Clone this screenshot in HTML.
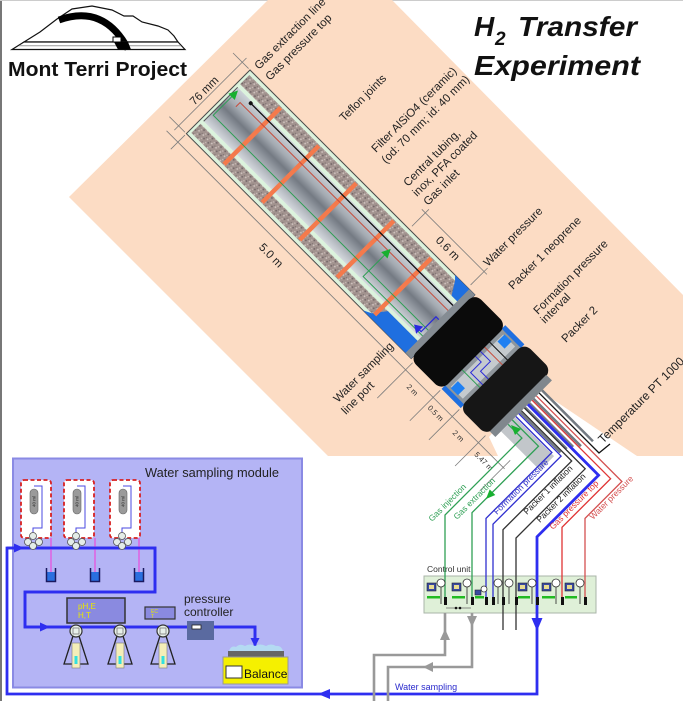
<!DOCTYPE html>
<html><head><meta charset="utf-8"><style>
html,body{margin:0;padding:0;background:#fff}
svg{display:block}
text{font-family:"Liberation Sans",Arial,sans-serif}
</style></head><body>
<svg width="683" height="701" viewBox="0 0 683 701" xmlns="http://www.w3.org/2000/svg">
<defs>
<pattern id="grav" width="6" height="6" patternUnits="userSpaceOnUse">
<rect width="6" height="6" fill="#a2938f"/>
<circle cx="1" cy="1" r="0.9" fill="#d2c6c2"/>
<circle cx="4" cy="3" r="0.9" fill="#6e6264"/>
<circle cx="2" cy="4.6" r="0.7" fill="#cabdb8"/>
<circle cx="5" cy="0.6" r="0.6" fill="#7c7070"/>
</pattern>
<linearGradient id="tube" x1="0" y1="0" x2="0" y2="1">
<stop offset="0" stop-color="#cdd2d8"/>
<stop offset="0.3" stop-color="#a5abb2"/>
<stop offset="0.5" stop-color="#747a83"/>
<stop offset="0.68" stop-color="#979da5"/>
<stop offset="1" stop-color="#d4d8dd"/>
</linearGradient>
</defs>

<rect width="683" height="701" fill="#fff"/>
<line x1="1" y1="0" x2="1" y2="701" stroke="#777" stroke-width="2"/>
<line x1="0" y1="0.5" x2="683" y2="0.5" stroke="#ccc" stroke-width="1"/>

<!-- beige band -->
<polygon points="69,197 268,0 392,0 683,295 683,456 328,456" fill="#fcdcc4"/>

<!-- white gallery after packer 2 -->
<polygon points="533,386 637,456 498,456 489,437" fill="#fff"/>

<!-- borehole -->
<g transform="translate(250,70) rotate(45)">
  <g stroke="#7d7d7d" stroke-width="0.8" fill="none">
    <line x1="-11" y1="-6" x2="-11" y2="96"/>
    <line x1="-2" y1="0" x2="-24" y2="0"/>
    <line x1="-2" y1="90" x2="-24" y2="90"/>
    <line x1="-16" y1="102" x2="462" y2="102"/>
    <line x1="0" y1="92" x2="0" y2="112"/>
    <line x1="322" y1="92" x2="322" y2="142"/>
    <line x1="361" y1="92" x2="361" y2="135"/>
    <line x1="388" y1="92" x2="388" y2="135"/>
    <line x1="425" y1="92" x2="425" y2="135"/>
    <line x1="460" y1="92" x2="460" y2="135"/>
    <line x1="225" y1="-4" x2="225" y2="-28"/>
    <line x1="308" y1="-4" x2="308" y2="-28"/>
    <line x1="220" y1="-23" x2="312" y2="-23"/>
  </g>
  <text transform="translate(-14,47) rotate(-90)" text-anchor="middle" font-size="11.5" fill="#222">76 mm</text>
  <text x="146" y="120" text-anchor="middle" font-size="11.5" fill="#222">5.0 m</text>
  <text x="266" y="-10" text-anchor="middle" font-size="11.5" fill="#222">0.6 m</text>
  <text x="341" y="114" text-anchor="middle" font-size="7.5" fill="#333">2 m</text>
  <text x="374" y="114" text-anchor="middle" font-size="7.5" fill="#333">0.5 m</text>
  <text x="406" y="114" text-anchor="middle" font-size="7.5" fill="#333">2 m</text>
  <text x="442" y="114" text-anchor="middle" font-size="7.5" fill="#333">5.47 m</text>

  <!-- filter section -->
  <rect x="0" y="0" width="318" height="90" fill="#dcf3dd" stroke="#4a4a4a" stroke-width="1"/>
  <rect x="3" y="4" width="315" height="13" fill="url(#grav)"/>
  <rect x="3" y="73" width="315" height="13" fill="url(#grav)"/>
  <rect x="3" y="21" width="315" height="48" fill="url(#tube)"/>
  <line x1="3.5" y1="21" x2="3.5" y2="69" stroke="#555" stroke-width="1"/>
  <polygon points="290,0 318,0 318,17 302,17 294,4" fill="#1f6fe0"/>
  <polygon points="250,90 318,90 318,73 268,73 258,86" fill="#1f6fe0"/>

  <g fill="#f47a4c">
    <rect x="46" y="5" width="4.5" height="80"/>
    <rect x="100" y="5" width="4.5" height="80"/>
    <rect x="153" y="5" width="4.5" height="80"/>
    <rect x="206" y="5" width="4.5" height="80"/>
    <rect x="259" y="5" width="4.5" height="80"/>
  </g>

  <g fill="none" stroke-width="1">
    <polyline points="6,30 6,58 318,58" stroke="#2f9e55"/>
    <polyline points="226,34 226,66 318,66" stroke="#2f9e55"/>
    <polyline points="16,36 16,30 318,30" stroke="#c84a3a"/>
    <line x1="24" y1="23" x2="318" y2="23" stroke="#111" stroke-width="1.3"/>
    <polyline points="300,64 306,64 306,43 318,43" stroke="#2a2ad8" stroke-width="1.2"/>
  </g>
  <circle cx="24" cy="23" r="2" fill="#111"/>
  <polygon points="6,23 1.5,32 10.5,32" fill="#18b030"/>
  <polygon points="226,27 221.5,36 230.5,36" fill="#18b030"/>
  <polygon points="296,64 304,59 304,69" fill="#2a2ae0"/>

  <!-- caps and packers -->
  <rect x="310" y="0" width="8" height="90" fill="#858c93"/>
  <rect x="361" y="0" width="27" height="90" fill="#8f969c"/>
  <rect x="366" y="8" width="17" height="74" fill="#c5cace"/>
  <rect x="361" y="0" width="27" height="5" fill="#1f6fe0"/>
  <rect x="361" y="85" width="27" height="5" fill="#1f6fe0"/>
  <rect x="367" y="7" width="10" height="10" fill="#1f80f2"/>
  <rect x="367" y="73" width="10" height="10" fill="#1f80f2"/>
  <g fill="none" stroke-width="1">
    <line x1="361" y1="23" x2="388" y2="23" stroke="#111"/>
    <line x1="361" y1="30" x2="388" y2="30" stroke="#c84a3a"/>
    <polyline points="361,36 376,36 376,50 388,50" stroke="#2a2ad8"/>
    <polyline points="361,43 370,43 370,58 388,58" stroke="#2a2ad8"/>
    <line x1="361" y1="62" x2="388" y2="62" stroke="#2f9e55"/>
  </g>
  <rect x="317" y="-1" width="45" height="92" rx="9" fill="#0b0b0b"/>
  <rect x="387" y="-1" width="39" height="92" rx="9" fill="#161616"/>
  <rect x="425" y="6" width="8" height="80" fill="#80878d"/>

  <!-- tube bundle -->
  <rect x="433" y="58" width="55" height="20" fill="#c2c6ca"/>
  <g stroke="#737a82" stroke-width="2.5">
    <line x1="433" y1="20" x2="505" y2="20"/>
    <line x1="433" y1="32" x2="500" y2="32"/>
    <line x1="433" y1="38" x2="495" y2="38"/>
    <line x1="433" y1="44" x2="492" y2="44"/>
    <line x1="433" y1="51" x2="490" y2="51"/>
  </g>
</g>

<!-- water sampling module box -->
<rect x="13" y="458.5" width="289" height="229" fill="#b4b4f5" stroke="#8a8ae4" stroke-width="2"/>
<text x="145" y="477" font-size="12.8" fill="#222">Water sampling module</text>

<!-- control unit box -->
<rect x="424" y="576" width="172" height="37" fill="#dff0d8" stroke="#aab5a8" stroke-width="1"/>
<text x="427" y="572" font-size="8.5" fill="#333">Control unit</text>

<!-- exit lines -->
<g fill="none" stroke-width="1.3">
  <polyline points="508.1,424.3 521.9,438.1 445,515 445,600" stroke="#2fa055"/>
  <polyline points="512.3,420 538.5,446.2 472,512.7 472,600" stroke="#2fa055"/>
  <polyline points="515.9,416.5 551.9,452.5 486,518.4 486,600" stroke="#3030d0"/>
  <polyline points="518.7,413.6 561.1,456.1 493,524.2 493,600" stroke="#3030d0"/>
  <polyline points="521.5,410.8 571.7,461 503,529.7 503,630" stroke="#333"/>
  <polyline points="524.4,408 585.2,468.8 516,538 516,630" stroke="#333"/>
  <polyline points="532.1,400.2 610.6,478.7 562,527.3 562,600" stroke="#e03434"/>
  <polyline points="536.4,395.9 621.9,481.5 585,518.4 585,600" stroke="#d45050"/>
  <polyline points="539.2,393.1 599,453 610,444" stroke="#111"/>
</g>
<polyline points="527.9,404.4 598.6,475.2 537,536.8 537,694 7,694 7,548 155,548 155,592 25,592 25,627 255,627 255,646" fill="none" stroke="#2e2ef0" stroke-width="2.8"/>
<polygon points="511,425 521,429 515,435" fill="#18b030"/>
<polygon points="486,499 495.3,495 489.7,489.4" fill="#18b030"/>

<!-- gray lines -->
<g fill="none" stroke="#999" stroke-width="2.6">
  <polyline points="445,613 445,655 374,655 374,701"/>
  <polyline points="472,613 472,667 388,667 388,701"/>
</g>
<polygon points="445,629 440,640 450,640" fill="#999"/>
<polygon points="472,627 467,616 477,616" fill="#999"/>
<polygon points="423,667 433,662 433,672" fill="#999"/>
<polygon points="537,631 531.5,618 542.5,618" fill="#2e2ef0"/>
<polygon points="318,694 330,689 330,699" fill="#2e2ef0"/>

<!-- control unit internals -->
<g fill="#22bb22">
  <rect x="427" y="596" width="13" height="2.5"/><rect x="452" y="596" width="13" height="2.5"/>
  <rect x="475" y="596" width="9" height="2.5"/><rect x="518" y="596" width="12" height="2.5"/>
  <rect x="542" y="596" width="13" height="2.5"/><rect x="565" y="596" width="12" height="2.5"/>
</g>
<g fill="#3a4aa0" stroke="#223" stroke-width="0.6">
  <rect x="427" y="583" width="9" height="8"/><rect x="452" y="583" width="9" height="8"/>
  <rect x="475" y="590" width="6" height="5"/><rect x="518" y="583" width="9" height="8"/>
  <rect x="542" y="583" width="9" height="8"/><rect x="565" y="583" width="9" height="8"/>
</g>
<g fill="#e8dc90">
  <rect x="429" y="585" width="5" height="4"/><rect x="454" y="585" width="5" height="4"/>
  <rect x="520" y="585" width="5" height="4"/><rect x="544" y="585" width="5" height="4"/>
  <rect x="567" y="585" width="5" height="4"/>
</g>
<g fill="#fff" stroke="#333" stroke-width="0.8">
  <circle cx="441" cy="583" r="4"/><circle cx="467" cy="583" r="4"/><circle cx="484" cy="589" r="3"/>
  <circle cx="498" cy="583" r="4"/><circle cx="509" cy="583" r="4"/><circle cx="532" cy="583" r="4"/>
  <circle cx="556" cy="583" r="4"/><circle cx="580" cy="583" r="4"/>
</g>
<g stroke="#222" stroke-width="0.8">
  <line x1="441" y1="587" x2="441" y2="604"/><line x1="467" y1="587" x2="467" y2="604"/>
  <line x1="498" y1="587" x2="498" y2="604"/><line x1="509" y1="587" x2="509" y2="604"/>
  <line x1="532" y1="587" x2="532" y2="604"/><line x1="556" y1="587" x2="556" y2="604"/>
  <line x1="580" y1="587" x2="580" y2="604"/>
  <line x1="446" y1="608" x2="471" y2="608" stroke="#666"/>
</g>
<g fill="#111">
  <rect x="444" y="597" width="3" height="8"/><rect x="471" y="597" width="3" height="8"/>
  <rect x="485" y="597" width="3" height="8"/><rect x="492" y="597" width="3" height="8"/>
  <rect x="502" y="597" width="3" height="8"/><rect x="515" y="597" width="3" height="8"/>
  <rect x="536" y="597" width="3" height="8"/><rect x="561" y="597" width="3" height="8"/>
  <rect x="584" y="597" width="3" height="8"/>
  <circle cx="456" cy="608" r="1.3"/><circle cx="460" cy="608" r="1.3"/>
</g>

<!-- exit line labels -->
<g font-size="8.5">
  <text transform="translate(432,522) rotate(-45)" fill="#2fa055">Gas injection</text>
  <text transform="translate(457,520) rotate(-45)" fill="#2fa055">Gas extraction</text>
  <text transform="translate(497,515) rotate(-45)" fill="#3030c8">Formation pressure</text>
  <text transform="translate(527,515) rotate(-45)" fill="#222">Packer 1 inflation</text>
  <text transform="translate(540,523) rotate(-45)" fill="#222">Packer 2 inflation</text>
  <text transform="translate(553,530) rotate(-45)" fill="#e03434">Gas pressure top</text>
  <text transform="translate(593,520) rotate(-45)" fill="#d45050">Water pressure</text>
</g>
<text x="395" y="690" font-size="9" fill="#2a2acc">Water sampling</text>

<!-- band labels -->
<g font-size="11.5" fill="#222">
  <text transform="translate(259,70) rotate(-45)">Gas extraction line</text>
  <text transform="translate(270,81) rotate(-45)">Gas pressure top</text>
  <text transform="translate(344,122) rotate(-45)">Teflon joints</text>
  <text transform="translate(376,153) rotate(-45)">Filter AlSiO4 (ceramic)</text>
  <text transform="translate(386,164) rotate(-45)">(od: 70 mm; id: 40 mm)</text>
  <text transform="translate(408,187) rotate(-45)">Central tubing,</text>
  <text transform="translate(417,197) rotate(-45)">inox, PFA coated</text>
  <text transform="translate(428,206) rotate(-45)">Gas inlet</text>
  <text transform="translate(488,267) rotate(-45)">Water pressure</text>
  <text transform="translate(513,290) rotate(-45)">Packer 1 neoprene</text>
  <text transform="translate(538,315) rotate(-45)">Formation pressure</text>
  <text transform="translate(545,324) rotate(-45)">interval</text>
  <text transform="translate(566,343) rotate(-45)">Packer 2</text>
  <text transform="translate(338,403) rotate(-45)">Water sampling</text>
  <text transform="translate(346,415) rotate(-45)">line port</text>
  <text transform="translate(603,444) rotate(-45)" font-size="12">Temperature PT 1000</text>
</g>

<!-- logo -->
<path d="M24,42 L40,32 L57,19 L72,9 L92,6 L112,10 L124,16 L133,16 L142,22 L158,26 L168,30 L174,36 L178,42 Z" fill="#fff" stroke="#111" stroke-width="1.2"/>
<path d="M59,20 Q104,4 128,49" stroke="#000" stroke-width="7" fill="none"/>
<path d="M12,49.5 L185,49.5 L178,42 L24,42 Z" fill="#fff" stroke="#111" stroke-width="1.2"/>
<line x1="19" y1="45.8" x2="181" y2="45.8" stroke="#999" stroke-width="1"/>
<path d="M114,42 L128,42 L131,49.5 L118,49.5 Z" fill="#000"/>
<rect x="113" y="37" width="8" height="5" fill="#fff" stroke="#000" stroke-width="1"/>
<text x="8" y="76" font-size="20.5" font-weight="bold" fill="#111" textLength="179" lengthAdjust="spacingAndGlyphs">Mont Terri Project</text>

<!-- title -->
<g font-weight="bold" font-style="italic" fill="#111">
  <text x="474" y="36" font-size="28">H</text>
  <text x="495" y="45" font-size="19">2</text>
  <text x="518" y="36" font-size="28" textLength="119" lengthAdjust="spacingAndGlyphs">Transfer</text>
  <text x="474" y="75" font-size="28" textLength="166" lengthAdjust="spacingAndGlyphs">Experiment</text>
</g>

<!-- bottles -->
<g>
  <g>
    <rect x="21" y="480" width="30" height="58" rx="3" fill="#fff" stroke="#d82020" stroke-width="1.8" stroke-dasharray="4 2.5"/>
    <rect x="30" y="489" width="8" height="25" rx="4" fill="#9a9a9a" stroke="#666" stroke-width="0.6"/>
    <polyline points="34,486 42,486 42,528 33,528 33,535" fill="none" stroke="#4a4ae0" stroke-width="1"/>
  </g>
  <g>
    <rect x="64" y="480" width="30" height="58" rx="3" fill="#fff" stroke="#d82020" stroke-width="1.8" stroke-dasharray="4 2.5"/>
    <rect x="73" y="489" width="8" height="25" rx="4" fill="#9a9a9a" stroke="#666" stroke-width="0.6"/>
    <polyline points="77,486 85,486 85,528 76,528 76,535" fill="none" stroke="#4a4ae0" stroke-width="1"/>
  </g>
  <g>
    <rect x="110" y="480" width="30" height="58" rx="3" fill="#fff" stroke="#d82020" stroke-width="1.8" stroke-dasharray="4 2.5"/>
    <rect x="119" y="489" width="8" height="25" rx="4" fill="#9a9a9a" stroke="#666" stroke-width="0.6"/>
    <polyline points="123,486 131,486 131,528 122,528 122,535" fill="none" stroke="#4a4ae0" stroke-width="1"/>
  </g>
  <g font-size="4.5" fill="#333">
    <text transform="translate(35.5,507) rotate(-90)">40 ml</text>
    <text transform="translate(78.5,507) rotate(-90)">40 ml</text>
    <text transform="translate(124.5,507) rotate(-90)">40 ml</text>
  </g>
</g>
<g stroke="#e060e0" stroke-width="1.5">
  <line x1="51" y1="538" x2="51" y2="576"/>
  <line x1="95" y1="538" x2="95" y2="576"/>
  <line x1="139" y1="538" x2="139" y2="576"/>
</g>

<!-- module pipe (drawn over module box) -->
<polyline points="7,548 155,548 155,592 25,592 25,627 255,627 255,646" fill="none" stroke="#2e2ef0" stroke-width="2.8"/>
<polygon points="24,548 14,543.5 14,552.5" fill="#2e2ef0"/>
<polygon points="50,627 40,622.5 40,631.5" fill="#2e2ef0"/>
<polygon points="255,647 250.5,638 259.5,638" fill="#2e2ef0"/>

<!-- valves -->
<g fill="#e4ece8" stroke="#555" stroke-width="0.8">
  <circle cx="33" cy="536" r="3.5"/><circle cx="28" cy="542" r="3.5"/><circle cx="39" cy="542" r="3.5"/><circle cx="33" cy="546" r="3.5"/>
  <circle cx="76" cy="536" r="3.5"/><circle cx="71" cy="542" r="3.5"/><circle cx="82" cy="542" r="3.5"/><circle cx="76" cy="546" r="3.5"/>
  <circle cx="122" cy="536" r="3.5"/><circle cx="117" cy="542" r="3.5"/><circle cx="128" cy="542" r="3.5"/><circle cx="122" cy="546" r="3.5"/>
</g>

<!-- cups -->
<g>
  <rect x="47" y="572" width="8" height="9" fill="#2a6fe0"/>
  <rect x="91" y="572" width="8" height="9" fill="#2a6fe0"/>
  <rect x="135" y="572" width="8" height="9" fill="#2a6fe0"/>
  <g fill="none" stroke="#1a1a60" stroke-width="1.5">
    <polyline points="46.5,568 46.5,581.5 55.5,581.5 55.5,568"/>
    <polyline points="90.5,568 90.5,581.5 99.5,581.5 99.5,568"/>
    <polyline points="134.5,568 134.5,581.5 143.5,581.5 143.5,568"/>
  </g>
</g>

<rect x="67" y="598" width="58" height="25" fill="#8a8ae0" stroke="#333" stroke-width="1.5"/>
<text x="78" y="609" font-size="8" fill="#e8e800">pH,E</text>
<text x="78" y="618" font-size="8" fill="#e8e800">H,T</text>
<rect x="145" y="607" width="30" height="12" fill="#8a8ae0" stroke="#333" stroke-width="1.2"/>
<text x="151" y="613" font-size="5" fill="#e8e800">EC</text>
<text x="151" y="618" font-size="5" fill="#e8e800">T</text>

<!-- electrodes -->
<g>
  <g fill="none" stroke="#222" stroke-width="1.3">
    <polyline points="73,636 64,664 88,664 79,636"/>
    <polyline points="117,636 108,664 132,664 123,636"/>
    <polyline points="160,636 151,664 175,664 166,636"/>
  </g>
  <g fill="#f4eeb8" stroke="#888" stroke-width="0.7">
    <rect x="72" y="643" width="8" height="25"/>
    <rect x="116" y="643" width="8" height="25"/>
    <rect x="159" y="643" width="8" height="25"/>
  </g>
  <g fill="#30e0e0">
    <rect x="74.5" y="656" width="3" height="8"/>
    <rect x="118.5" y="656" width="3" height="8"/>
    <rect x="161.5" y="656" width="3" height="8"/>
  </g>
  <g fill="#e8f0ea" stroke="#333" stroke-width="1.2">
    <circle cx="76" cy="631" r="6"/><circle cx="120" cy="631" r="6"/><circle cx="163" cy="631" r="6"/>
  </g>
  <g fill="none" stroke="#777" stroke-width="0.8">
    <rect x="73" y="628" width="6" height="6"/><rect x="117" y="628" width="6" height="6"/><rect x="160" y="628" width="6" height="6"/>
  </g>
</g>

<!-- pressure controller -->
<rect x="187" y="621" width="27" height="19" fill="#5a6aa0"/>
<rect x="192" y="625" width="9" height="4" fill="#fff" stroke="#222" stroke-width="0.8"/>
<text x="184" y="603" font-size="12" fill="#222">pressure</text>
<text x="184" y="616" font-size="12" fill="#222">controller</text>

<!-- balance -->
<path d="M229,651 Q231,645 236,647 Q240,643 245,646 Q250,643 255,646 Q260,643 266,646 Q271,643 276,646 Q281,645 283,651 Z" fill="#b4daf2"/>
<rect x="228" y="651" width="56" height="6" fill="#666"/>
<rect x="223" y="657" width="65" height="27" fill="#f5f000" stroke="#999" stroke-width="1"/>
<rect x="226" y="666" width="16" height="12" fill="#fff" stroke="#333" stroke-width="1"/>
<text x="244" y="678" font-size="12" fill="#111">Balance</text>
</svg>
</body></html>
